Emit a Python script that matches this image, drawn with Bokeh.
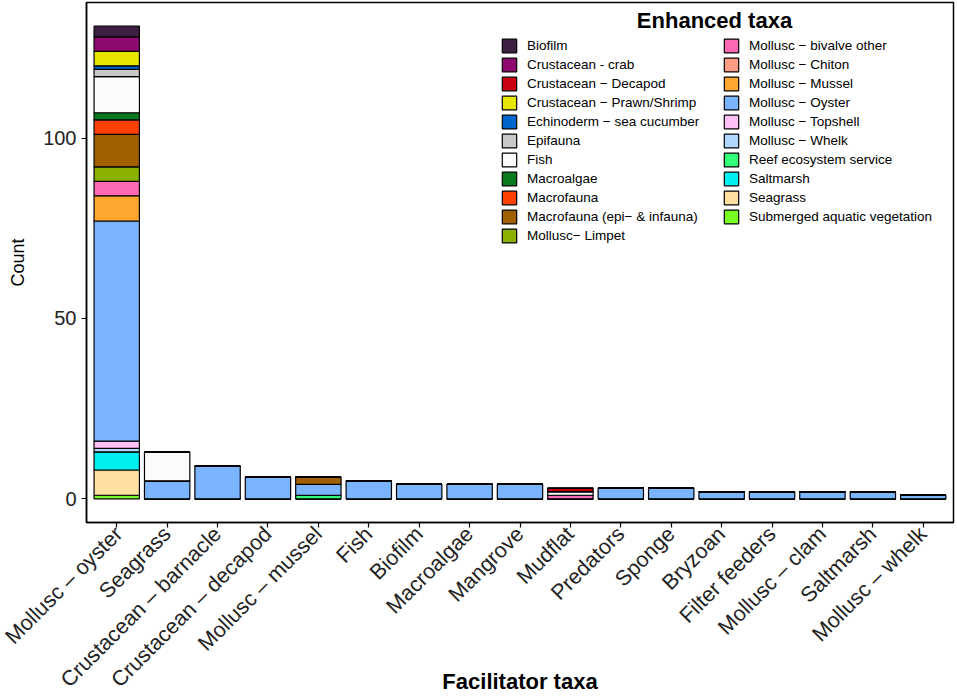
import math
from bokeh.plotting import figure
from bokeh.models import (FactorRange, Range1d, Legend, LegendItem, Label,
                          FixedTicker, ColumnDataSource)
from bokeh.embed import file_html
from bokeh.resources import INLINE

FONT = "Liberation Sans"

facilitators = ["Mollusc – oyster", "Seagrass", "Crustacean – barnacle",
                "Crustacean – decapod", "Mollusc – mussel", "Fish", "Biofilm",
                "Macroalgae", "Mangrove", "Mudflat", "Predators", "Sponge",
                "Bryzoan", "Filter feeders", "Mollusc – clam", "Saltmarsh",
                "Mollusc – whelk"]

taxa = ["Biofilm", "Crustacean - crab", "Crustacean − Decapod",
        "Crustacean − Prawn/Shrimp", "Echinoderm − sea cucumber", "Epifauna",
        "Fish", "Macroalgae", "Macrofauna", "Macrofauna (epi− & infauna)",
        "Mollusc− Limpet", "Mollusc − bivalve other", "Mollusc − Chiton",
        "Mollusc − Mussel", "Mollusc − Oyster", "Mollusc − Topshell",
        "Mollusc − Whelk", "Reef ecosystem service", "Saltmarsh", "Seagrass",
        "Submerged aquatic vegetation"]

colors = ["#3D1F42", "#8E0A6E", "#C8000F", "#E6E600", "#0066CC", "#C8C8C8",
          "#FCFCFC", "#0A7A1E", "#FF4000", "#A06000", "#8CB000", "#FF69B4",
          "#FF9C85", "#FFA62E", "#7AB4FF", "#FFC0F5", "#B0D8FF", "#33FF77",
          "#00F0F0", "#FFE0A0", "#77FF22"]

# counts per enhanced taxon, one value per facilitator (same order as facilitators)
biofilm        = [3, 0, 0, 0, 0, 0, 0, 0, 0, 0, 0, 0, 0, 0, 0, 0, 0]
crab           = [4, 0, 0, 0, 0, 0, 0, 0, 0, 0, 0, 0, 0, 0, 0, 0, 0]
decapod        = [0, 0, 0, 0, 0, 0, 0, 0, 0, 1, 0, 0, 0, 0, 0, 0, 0]
prawn          = [4, 0, 0, 0, 0, 0, 0, 0, 0, 0, 0, 0, 0, 0, 0, 0, 0]
sea_cucumber   = [1, 0, 0, 0, 0, 0, 0, 0, 0, 0, 0, 0, 0, 0, 0, 0, 0]
epifauna       = [2, 0, 0, 0, 0, 0, 0, 0, 0, 0, 0, 0, 0, 0, 0, 0, 0]
fish           = [10, 8, 0, 0, 0, 0, 0, 0, 0, 1, 0, 0, 0, 0, 0, 0, 0]
macroalgae     = [2, 0, 0, 0, 0, 0, 0, 0, 0, 0, 0, 0, 0, 0, 0, 0, 0]
macrofauna     = [4, 0, 0, 0, 0, 0, 0, 0, 0, 0, 0, 0, 0, 0, 0, 0, 0]
macrofauna_epi = [9, 0, 0, 0, 2, 0, 0, 0, 0, 0, 0, 0, 0, 0, 0, 0, 0]
limpet         = [4, 0, 0, 0, 0, 0, 0, 0, 0, 0, 0, 0, 0, 0, 0, 0, 0]
bivalve_other  = [4, 0, 0, 0, 0, 0, 0, 0, 0, 1, 0, 0, 0, 0, 0, 0, 0]
chiton         = [0, 0, 0, 0, 0, 0, 0, 0, 0, 0, 0, 0, 0, 0, 0, 0, 0]
mussel         = [7, 0, 0, 0, 0, 0, 0, 0, 0, 0, 0, 0, 0, 0, 0, 0, 0]
oyster         = [61, 5, 9, 6, 3, 5, 4, 4, 4, 0, 3, 3, 2, 2, 2, 2, 1]
topshell       = [2, 0, 0, 0, 0, 0, 0, 0, 0, 0, 0, 0, 0, 0, 0, 0, 0]
whelk          = [1, 0, 0, 0, 0, 0, 0, 0, 0, 0, 0, 0, 0, 0, 0, 0, 0]
reef           = [0, 0, 0, 0, 1, 0, 0, 0, 0, 0, 0, 0, 0, 0, 0, 0, 0]
saltmarsh      = [5, 0, 0, 0, 0, 0, 0, 0, 0, 0, 0, 0, 0, 0, 0, 0, 0]
seagrass       = [7, 0, 0, 0, 0, 0, 0, 0, 0, 0, 0, 0, 0, 0, 0, 0, 0]
submerged      = [1, 0, 0, 0, 0, 0, 0, 0, 0, 0, 0, 0, 0, 0, 0, 0, 0]

series = [biofilm, crab, decapod, prawn, sea_cucumber, epifauna, fish,
          macroalgae, macrofauna, macrofauna_epi, limpet, bivalve_other, chiton,
          mussel, oyster, topshell, whelk, reef, saltmarsh, seagrass, submerged]

keys = ["t%d" % i for i in range(len(taxa))]
data = {"f": facilitators}
for k, s in zip(keys, series):
    data[k] = s
source = ColumnDataSource(data)

p = figure(width=957, height=700, output_backend="svg", toolbar_location=None,
           x_range=FactorRange(factors=facilitators, range_padding=0.1,
                               range_padding_units="absolute"),
           y_range=Range1d(-6.55, 137.55),
           min_border_left=86, min_border_right=4, min_border_top=2,
           min_border_bottom=178)

# ggplot stacks first level on top -> reverse for bokeh (first stacker at bottom)
rev_keys = keys[::-1]
rev_cols = colors[::-1]
renderers = p.vbar_stack(rev_keys, x="f", width=0.9, source=source,
                         fill_color=rev_cols, line_color="black", line_width=1.2)
renderers = renderers[::-1]

p.xgrid.visible = False
p.ygrid.visible = False
p.background_fill_color = "white"
p.border_fill_color = "white"
p.outline_line_color = "black"
p.outline_line_width = 1.5

p.yaxis.ticker = FixedTicker(ticks=[0, 50, 100])
for ax in (p.xaxis[0], p.yaxis[0]):
    ax.axis_line_color = "black"
    ax.axis_line_width = 1.5
    ax.major_tick_line_color = "black"
    ax.major_tick_line_width = 1.2
    ax.major_tick_out = 5
    ax.major_tick_in = 0
    ax.minor_tick_line_color = None
    ax.major_label_text_font = FONT
    ax.major_label_text_color = "#222222"
    ax.axis_label_text_font = FONT
    ax.axis_label_text_color = "black"

p.yaxis.major_label_text_font_size = "20px"
p.yaxis.major_label_standoff = 5
p.yaxis.axis_label = "Count"
p.yaxis.axis_label_text_font_size = "18px"
p.yaxis.axis_label_text_font_style = "normal"
p.yaxis.axis_label_standoff = 12

p.xaxis.major_label_text_font_size = "21.5px"
p.xaxis.major_label_orientation = math.pi / 4
p.xaxis.major_label_standoff = 3
p.xaxis.axis_label = "Facilitator taxa"
p.xaxis.axis_label_text_font_size = "22px"
p.xaxis.axis_label_text_font_style = "bold"
p.xaxis.axis_label_standoff = -34

frame_h = 518

n_left = 11
items_left = [LegendItem(label=taxa[i], renderers=[renderers[i]]) for i in range(n_left)]
items_right = [LegendItem(label=taxa[i], renderers=[renderers[i]]) for i in range(n_left, len(taxa))]

gh, sp = 17, 2


def make_legend(items, x, top_off):
    n = len(items)
    h = n * gh + (n - 1) * sp
    lg = Legend(items=items, location=(x, frame_h - top_off - h),
                glyph_width=18, glyph_height=gh, label_height=gh, spacing=sp,
                padding=0, margin=0, label_standoff=9,
                label_text_font=FONT, label_text_font_size="13.5px",
                label_text_color="black", border_line_color=None,
                background_fill_alpha=0)
    return lg


p.add_layout(make_legend(items_left, 414, 33))
p.add_layout(make_legend(items_right, 636, 33))

p.add_layout(Label(x=628, y=frame_h - 16, x_units="screen", y_units="screen",
                   text="Enhanced taxa", text_align="center",
                   text_baseline="middle", text_font=FONT,
                   text_font_size="22px", text_font_style="bold",
                   text_color="black"))

open("out.html", "w").write(file_html(p, INLINE))
